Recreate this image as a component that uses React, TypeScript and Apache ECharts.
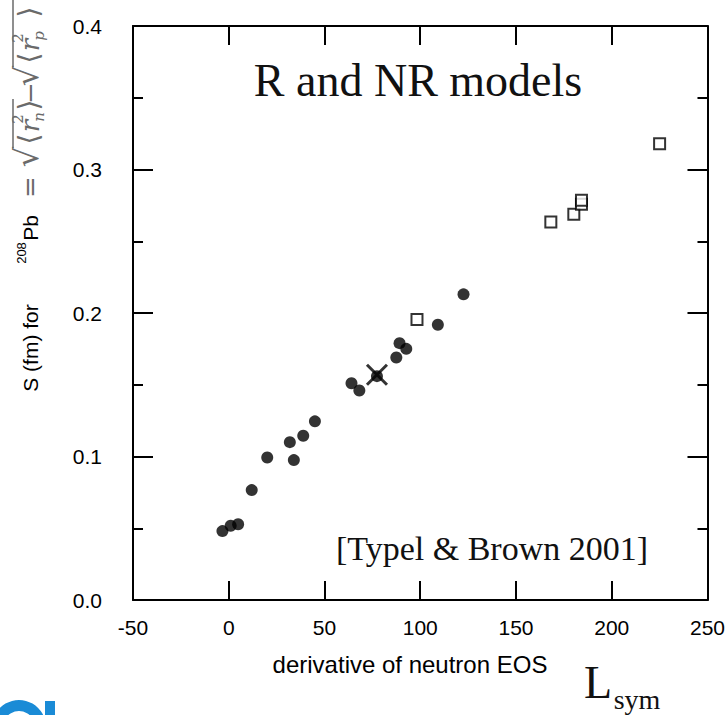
import React, { useEffect, useRef } from "react";
import * as echarts from "echarts";

// ---- data ----
const xTickValues = [-50, 0, 50, 100, 150, 200, 250];
const yTickLabels = ["0.0", "0.1", "0.2", "0.3", "0.4"];

// relativistic / non-relativistic models (filled circles)
const filledCircles: [number, number][] = [
  [-3.3, 0.048],
  [1.0, 0.0517],
  [4.9, 0.0528],
  [12.0, 0.0766],
  [20.1, 0.0993],
  [34.0, 0.0975],
  [31.9, 0.11],
  [38.9, 0.1145],
  [45.0, 0.1245],
  [64.1, 0.151],
  [68.2, 0.146],
  [77.4, 0.156],
  [87.5, 0.169],
  [89.2, 0.179],
  [92.7, 0.175],
  [109.2, 0.1918],
  [122.6, 0.213],
];

// open squares
const openSquares: [number, number][] = [
  [98.3, 0.1955],
  [168.2, 0.2634],
  [180.2, 0.2688],
  [184.2, 0.2757],
  [184.2, 0.2785],
  [225.0, 0.318],
];

// cross marker
const crossMarker: [number, number][] = [[77.4, 0.157]];

const SANS = "'Liberation Sans', Arial, Helvetica, sans-serif";
const SERIF = "'Liberation Serif', 'Times New Roman', serif";
const MATH = "'DejaVu Serif', 'Liberation Serif', serif";

function txt(
  text: string,
  x: number,
  y: number,
  fontSize: number,
  fontFamily: string,
  fill: string,
  rotated = false,
  fontStyle = "normal"
) {
  return {
    type: "text",
    x,
    y,
    rotation: rotated ? Math.PI / 2 : 0,
    z: 20,
    style: {
      text,
      fontSize,
      fontFamily,
      fontStyle,
      fill,
      align: "center",
      verticalAlign: "middle",
      textAlign: "center",
      textVerticalAlign: "middle",
    },
  };
}

export default function App() {
  const ref = useRef<HTMLDivElement>(null);

  useEffect(() => {
    document.body.style.margin = "0";
    const chart = echarts.init(ref.current!, null, { renderer: "svg" });

    const axisLine = { show: true, onZero: false, lineStyle: { color: "#000", width: 2 } };
    const tick = (len: number) => ({
      show: true,
      inside: true,
      length: len,
      lineStyle: { color: "#000", width: 2 },
    });
    const tickLabel = {
      color: "#000",
      fontSize: 21,
      fontFamily: SANS,
    };
    const gray = "#6a6a6a";

    const option: any = {
      animation: false,
      backgroundColor: "#fff",
      grid: { left: 133, right: 20, top: 26, bottom: 115, containLabel: false },
      xAxis: [
        {
          type: "value",
          position: "bottom",
          min: xTickValues[0],
          max: xTickValues[xTickValues.length - 1],
          interval: 50,
          axisLine,
          axisTick: tick(19),
          splitLine: { show: false },
          axisLabel: { ...tickLabel, margin: 17 },
        },
        {
          type: "value",
          position: "top",
          min: xTickValues[0],
          max: xTickValues[xTickValues.length - 1],
          interval: 50,
          axisLine,
          axisTick: tick(19),
          splitLine: { show: false },
          axisLabel: { show: false },
        },
      ],
      yAxis: [
        {
          type: "value",
          position: "left",
          min: 0,
          max: 0.4,
          interval: 0.1,
          axisLine,
          axisTick: tick(20),
          minorTick: { show: true, splitNumber: 2, length: 10, lineStyle: { color: "#000", width: 2 } },
          splitLine: { show: false },
          axisLabel: {
            ...tickLabel,
            margin: 31,
            formatter: (v: number) => yTickLabels[Math.round(v * 10)] ?? v.toFixed(1),
          },
        },
        {
          type: "value",
          position: "right",
          min: 0,
          max: 0.4,
          interval: 0.1,
          axisLine,
          axisTick: tick(20),
          minorTick: { show: true, splitNumber: 2, length: 10, lineStyle: { color: "#000", width: 2 } },
          splitLine: { show: false },
          axisLabel: { show: false },
        },
      ],
      series: [
        {
          type: "scatter",
          xAxisIndex: 0,
          yAxisIndex: 0,
          data: filledCircles,
          symbol: "circle",
          symbolSize: 12,
          itemStyle: { color: "#000" },
          z: 3,
        },
        {
          type: "scatter",
          xAxisIndex: 0,
          yAxisIndex: 0,
          data: openSquares,
          symbol: "rect",
          symbolSize: 11,
          itemStyle: { color: "#fff", borderColor: "#000", borderWidth: 2 },
          z: 3,
        },
        {
          type: "scatter",
          xAxisIndex: 0,
          yAxisIndex: 0,
          data: crossMarker,
          symbol: "path://M0,0L20,20M20,0L0,20",
          symbolSize: 20,
          itemStyle: { color: "transparent", borderColor: "#000", borderWidth: 3 },
          z: 4,
        },
      ],
      graphic: [
        // title and annotations
        txt("R and NR models", 418, 80, 46, SERIF, "#111"),
        txt("[Typel & Brown 2001]", 492, 548, 34, SERIF, "#111"),
        txt("derivative of neutron EOS", 410, 664, 24, SANS, "#000"),
        txt("L", 598, 682, 46, SERIF, "#111"),
        txt("sym", 637, 699, 28, SERIF, "#111"),
        // rotated y label
        txt("S (fm) for", 30, 348, 21, SANS, "#000", true),
        txt("208", 21, 253, 13, SANS, "#000", true),
        txt("Pb", 30, 228, 21, SANS, "#000", true),
        // math part
        txt("=", 30, 187, 26, MATH, gray, true),
        txt("√", 27, 157, 32, MATH, gray, true),
        { type: "line", z: 20, shape: { x1: 13, y1: 148, x2: 13, y2: 99 }, style: { stroke: gray, lineWidth: 1.5 } },
        txt("⟨", 28, 139, 28, MATH, gray, true),
        txt("r", 30, 126, 26, MATH, gray, true, "italic"),
        txt("2", 18, 119, 15, MATH, gray, true),
        txt("n", 39, 117, 15, MATH, gray, true, "italic"),
        txt("⟩", 28, 105, 28, MATH, gray, true),
        txt("−", 30, 93, 26, MATH, gray, true),
        txt("√", 27, 76, 32, MATH, gray, true),
        { type: "line", z: 20, shape: { x1: 13, y1: 67, x2: 13, y2: 0 }, style: { stroke: gray, lineWidth: 1.5 } },
        txt("⟨", 28, 58, 28, MATH, gray, true),
        txt("r", 30, 45, 26, MATH, gray, true, "italic"),
        txt("2", 18, 38, 15, MATH, gray, true),
        txt("p", 39, 36, 15, MATH, gray, true, "italic"),
        txt("⟩", 28, 12, 28, MATH, gray, true),
        // cropped blue logo at bottom-left
        { type: "ring", z: 20, shape: { cx: 19, cy: 727, r: 27, r0: 16 }, style: { fill: "#1a8bd6" } },
        { type: "rect", z: 20, shape: { x: 45, y: 701, width: 10, height: 14 }, style: { fill: "#1a8bd6" } },
      ],
    };

    chart.setOption(option);
    return () => chart.dispose();
  }, []);

  return <div ref={ref} style={{ width: 728, height: 715 }} />;
}
